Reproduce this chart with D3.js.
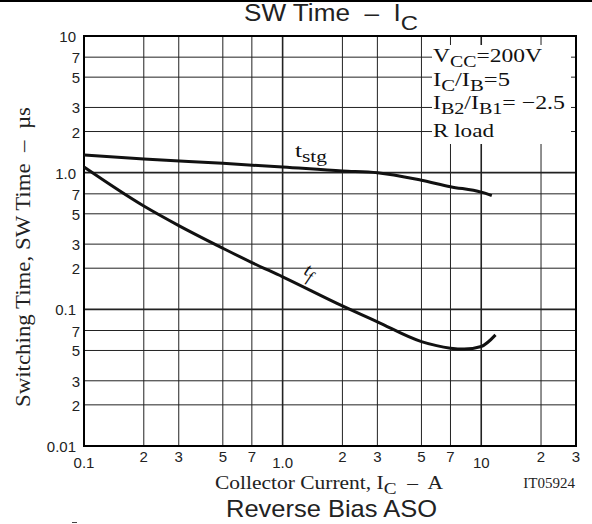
<!DOCTYPE html>
<html>
<head>
<meta charset="utf-8">
<script src="https://cdn.jsdelivr.net/npm/d3@7"></script>
<style>
  body { margin: 0; background: #fff; }
  text { white-space: pre; }
  .sans { font-family: "Liberation Sans", Arial, sans-serif; }
  .serif { font-family: "Liberation Serif", "Times New Roman", serif; }
</style>
</head>
<body>
<svg width="592" height="524"></svg>
<script>
const xTicks = [0.1, 0.2, 0.3, 0.5, 0.7, 1, 2, 3, 5, 7, 10, 20, 30];
const xTickLabels = ["0.1", "2", "3", "5", "7", "1.0", "2", "3", "5", "7", "10", "2", "3"];
const yTicks = [0.01, 0.02, 0.03, 0.05, 0.07, 0.1, 0.2, 0.3, 0.5, 0.7, 1, 2, 3, 5, 7, 10];
const yTickLabels = ["0.01", "2", "3", "5", "7", "0.1", "2", "3", "5", "7", "1.0", "2", "3", "5", "7", "10"];

// collector current (A), switching time (us)
const tstgIc = [0.1, 0.2, 0.5, 1, 2, 3, 5, 7, 10, 11.3];
const tstgT = [1.35, 1.26, 1.17, 1.1, 1.03, 1.0, 0.88, 0.79, 0.72, 0.68];
const tfIc = [0.1, 0.2, 0.3, 0.5, 0.7, 1, 2, 3, 5, 7, 8.2, 10, 11.8];
const tfT = [1.1, 0.57, 0.41, 0.28, 0.22, 0.173, 0.106, 0.081, 0.058, 0.052, 0.0512, 0.0535, 0.065];

const svg = d3.select("svg");
const x = d3.scaleLog().domain([0.1, 30]).range([84, 576]);
const y = d3.scaleLog().domain([0.01, 10]).range([446, 36]);
const isMajor = v => Math.abs(Math.log10(v) - Math.round(Math.log10(v))) < 1e-9;

svg.append("rect").attr("x", 0).attr("y", 0).attr("width", 592).attr("height", 2).attr("fill", "#000");

const grid = svg.append("g");
grid.selectAll("line.v").data(xTicks.slice(1, -1)).join("line")
    .attr("x1", d => x(d)).attr("x2", d => x(d))
    .attr("y1", y(10)).attr("y2", y(0.01))
    .attr("stroke", "#222").attr("stroke-width", d => isMajor(d) ? 1.6 : 1);
grid.selectAll("line.h").data(yTicks.slice(1, -1)).join("line")
    .attr("x1", x(0.1)).attr("x2", x(30))
    .attr("y1", d => y(d)).attr("y2", d => y(d))
    .attr("stroke", "#222").attr("stroke-width", d => isMajor(d) ? 1.6 : 1);

// conditions block covers the grid
svg.append("rect").attr("x", 432).attr("y", 45).attr("width", 139).attr("height", 99).attr("fill", "#fff");

svg.append("rect")
    .attr("x", x(0.1)).attr("y", y(10))
    .attr("width", x(30) - x(0.1)).attr("height", y(0.01) - y(10))
    .attr("fill", "none").attr("stroke", "#000").attr("stroke-width", 2);

// tick labels
svg.append("g").attr("class", "sans").attr("font-size", 15).attr("fill", "#222")
    .selectAll("text").data(xTicks).join("text")
    .attr("x", d => x(d))
    .attr("y", d => isMajor(d) ? 468 : 462)
    .attr("text-anchor", "middle")
    .text((d, i) => xTickLabels[i]);

svg.append("g").attr("class", "sans").attr("font-size", 15).attr("fill", "#222")
    .selectAll("text").data(yTicks).join("text")
    .attr("x", d => isMajor(d) ? 76 : 80)
    .attr("y", d => y(d) + 6)
    .attr("text-anchor", "end")
    .text((d, i) => yTickLabels[i]);

// curves
const line = d3.line().curve(d3.curveMonotoneX);
svg.append("path")
    .attr("d", line(tstgIc.map((c, i) => [x(c), y(tstgT[i])])))
    .attr("fill", "none").attr("stroke", "#111").attr("stroke-width", 3);
svg.append("path")
    .attr("d", line(tfIc.map((c, i) => [x(c), y(tfT[i])])))
    .attr("fill", "none").attr("stroke", "#111").attr("stroke-width", 3);

// curve labels
const tstg = svg.append("text").attr("class", "serif").attr("x", 295).attr("y", 157).attr("font-size", 19).attr("fill", "#111")
    .attr("textLength", 32).attr("lengthAdjust", "spacingAndGlyphs");
tstg.append("tspan").text("t");
tstg.append("tspan").attr("dy", 5).attr("font-size", 16).text("stg");

const tf = svg.append("text").attr("class", "serif").attr("font-style", "italic").attr("font-size", 19).attr("fill", "#111")
    .attr("transform", "translate(303,274) rotate(24)");
tf.append("tspan").text("t");
tf.append("tspan").attr("dy", 5).attr("font-size", 16).text("f");

// conditions
const cond = svg.append("g").attr("class", "serif").attr("font-size", 19).attr("fill", "#111");
function condLine(yPos, width, parts) {
    const t = cond.append("text").attr("x", 433).attr("y", yPos)
        .attr("textLength", width).attr("lengthAdjust", "spacingAndGlyphs");
    parts.forEach(([s, sub], i) => {
        const dy = i === 0 ? 0 : (sub ? 5 : (parts[i - 1][1] ? -5 : 0));
        t.append("tspan").attr("dy", dy).attr("font-size", sub ? 16 : null).text(s);
    });
}
condLine(62, 109, [["V"], ["CC", true], ["=200V"]]);
condLine(86, 77, [["I"], ["C", true], ["/I"], ["B", true], ["=5"]]);
condLine(109, 132, [["I"], ["B2", true], ["/I"], ["B1", true], ["= \u22122.5"]]);
condLine(137, 61, [["R load"]]);

// titles and axis names
const title = svg.append("text").attr("class", "sans").attr("x", 244).attr("y", 21).attr("font-size", 23).attr("fill", "#222")
    .attr("textLength", 174).attr("lengthAdjust", "spacingAndGlyphs");
title.append("tspan").text("SW Time  \u2013  I");
title.append("tspan").attr("dy", 9).attr("font-size", 21).text("C");

const xName = svg.append("text").attr("class", "serif").attr("x", 215).attr("y", 489).attr("font-size", 19).attr("fill", "#222")
    .attr("textLength", 228).attr("lengthAdjust", "spacingAndGlyphs");
xName.append("tspan").text("Collector Current, I");
xName.append("tspan").attr("dy", 5).attr("font-size", 17).text("C");
xName.append("tspan").attr("dy", -5).text("  \u2013  A");

svg.append("text").attr("class", "serif").attr("x", 575).attr("y", 488).attr("text-anchor", "end")
    .attr("font-size", 15).attr("fill", "#222").text("IT05924");

svg.append("text").attr("class", "serif").attr("transform", "translate(30,257) rotate(-90)")
    .attr("x", -150).attr("font-size", 20).attr("fill", "#222")
    .attr("textLength", 300).attr("lengthAdjust", "spacingAndGlyphs")
    .text("Switching Time, SW Time  \u2013  \u00b5s");

svg.append("text").attr("class", "sans").attr("x", 226).attr("y", 517)
    .attr("font-size", 24).attr("fill", "#222")
    .attr("textLength", 211).attr("lengthAdjust", "spacingAndGlyphs")
    .text("Reverse Bias ASO");

svg.append("line").attr("x1", 72).attr("x2", 77).attr("y1", 522.5).attr("y2", 522.5).attr("stroke", "#444").attr("stroke-width", 1);
</script>
</body>
</html>
